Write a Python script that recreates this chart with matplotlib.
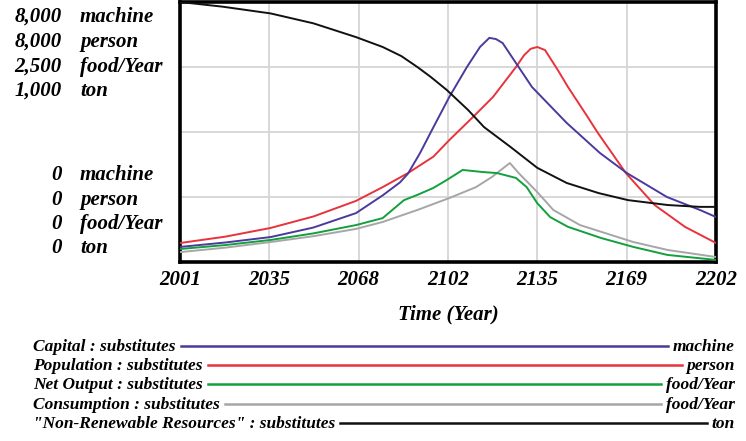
import numpy as np
import matplotlib
matplotlib.use("Agg")
import matplotlib.pyplot as plt
from matplotlib.lines import Line2D

# ---------------- data ----------------
x_min, x_max = 2001, 2202
x_tick_labels = ["2001", "2035", "2068", "2102", "2135", "2169", "2202"]

cap_years = [2001, 2018, 2035, 2051, 2067, 2077, 2083.5, 2086.5, 2091, 2095.5, 2102,
             2108.6, 2113.5, 2117, 2119.5, 2122, 2127, 2133, 2146, 2158.5, 2168.6,
             2183.6, 2196, 2202]
capital = [464, 600, 768, 1060, 1504, 2050, 2450, 2720, 3350, 4064, 5080,
           6000, 6616, 6896, 6860, 6736, 6120, 5384, 4280, 3352, 2736,
           2000, 1600, 1384]

pop_years = [2001, 2018, 2035, 2051, 2067, 2077, 2086.5, 2096, 2102, 2111.6, 2118.4,
             2127, 2130, 2132.5, 2135, 2137.9, 2142.7, 2146.5, 2152.9, 2157.8, 2168.2,
             2179, 2190.4, 2202]
population = [584, 780, 1048, 1400, 1880, 2304, 2736, 3240, 3752, 4520, 5080,
              6000, 6360, 6560, 6616, 6520, 5904, 5384, 4584, 3960, 2736,
              1752, 1080, 584]

net_years = [2001, 2018, 2035, 2051, 2067, 2077, 2085, 2090, 2096, 2101, 2107,
             2114.6, 2119.9, 2127, 2131, 2134.9, 2139.8, 2146.5, 2159, 2171, 2183.8,
             2202]
net_output = [125, 163, 212, 275, 355, 422, 595, 645, 712, 788, 885,
              865, 855, 808, 720, 568, 432, 338, 230, 145, 68,
              20]

cons_years = [2001, 2018, 2035, 2051, 2067, 2077, 2090, 2102, 2112, 2118, 2124.7,
              2128, 2135, 2141, 2151, 2171, 2184, 2202]
consumption = [95, 138, 192, 248, 318, 385, 500, 615, 720, 818, 952,
               855, 672, 500, 355, 192, 115, 48]

res_years = [2001, 2017, 2035, 2051, 2067, 2077, 2084, 2090, 2095, 2101, 2109,
             2115, 2125, 2135, 2146, 2158, 2169, 2184, 2196, 2202]
resources = [1000, 982, 956, 918, 865, 827, 792, 750, 712, 662, 585,
             519, 442, 362, 304, 265, 238, 219, 212, 212]

series_names = ["Capital : substitutes", "Population : substitutes",
                "Net Output : substitutes", "Consumption : substitutes",
                "\"Non-Renewable Resources\" : substitutes"]
series_units = ["machine", "person", "food/Year", "food/Year", "ton"]
scale_max = [8000, 8000, 2500, 2500, 1000]
scale_max_labels = ["8,000", "8,000", "2,500", "1,000"]
scale_units_left = ["machine", "person", "food/Year", "ton"]
colors = ["#4a3a9c", "#e8323c", "#12a03c", "#a6a6a6", "#111111"]

# ---------------- figure ----------------
W, H = 746, 441
fig = plt.figure(figsize=(W / 100, H / 100), dpi=100)
font = dict(family="Liberation Serif", weight="bold", style="italic")

L, R, T, B = 180, 716, 2, 262
ax = fig.add_axes([L / W, 1 - B / H, (R - L) / W, (B - T) / H])
ax.set_xlim(x_min, x_max)
ax.set_ylim(0, 1)

data = [(cap_years, capital), (pop_years, population), (net_years, net_output),
        (cons_years, consumption), (res_years, resources)]
order = [3, 2, 1, 0, 4]
for i in order:
    yrs, vals = data[i]
    ax.plot(yrs, np.array(vals) / scale_max[i], color=colors[i], lw=1.4, zorder=3,
            solid_joinstyle="round")

ticks = np.linspace(x_min, x_max, 7)
ax.set_xticks(ticks)
ax.set_xticklabels(x_tick_labels, fontsize=15, **font)
ax.set_yticks([0.25, 0.5, 0.75])
ax.set_yticklabels([])
ax.tick_params(length=0, pad=6)
ax.grid(True, color="#d6d6d6", lw=1.3, zorder=0)
for s in ax.spines.values():
    s.set_linewidth(2.6)
    s.set_color("black")
ax.set_xlabel("Time (Year)", fontsize=15, labelpad=10, **font)

# left scale labels
top_rows = [17, 42, 67, 91]
bot_rows = [175, 200, 224, 248]
for yy, num, unit in zip(top_rows, scale_max_labels, scale_units_left):
    fig.text(62 / W, 1 - yy / H, num, ha="right", va="center", fontsize=15, **font)
    fig.text(80 / W, 1 - yy / H, unit, ha="left", va="center", fontsize=15, **font)
for yy, unit in zip(bot_rows, scale_units_left):
    fig.text(62 / W, 1 - yy / H, "0", ha="right", va="center", fontsize=15, **font)
    fig.text(80 / W, 1 - yy / H, unit, ha="left", va="center", fontsize=15, **font)

# legend rows
leg_rows = [347, 366, 385, 405, 424]
fig.canvas.draw()
rend = fig.canvas.get_renderer()
for yy, name, unit, c in zip(leg_rows, series_names, series_units, colors):
    yf = 1 - yy / H
    t1 = fig.text(33 / W, yf, name, ha="left", va="center", fontsize=12.5, **font)
    t2 = fig.text(735 / W, yf, unit, ha="right", va="center", fontsize=12.5, **font)
    b1 = t1.get_window_extent(rend)
    b2 = t2.get_window_extent(rend)
    x0 = (b1.x1 + 5) / W
    x1 = (b2.x0 - 5) / W
    fig.add_artist(Line2D([x0, x1], [yf + 1 / H, yf + 1 / H], color=c, lw=1.8,
                          transform=fig.transFigure))

fig.savefig("out.png", dpi=100)
